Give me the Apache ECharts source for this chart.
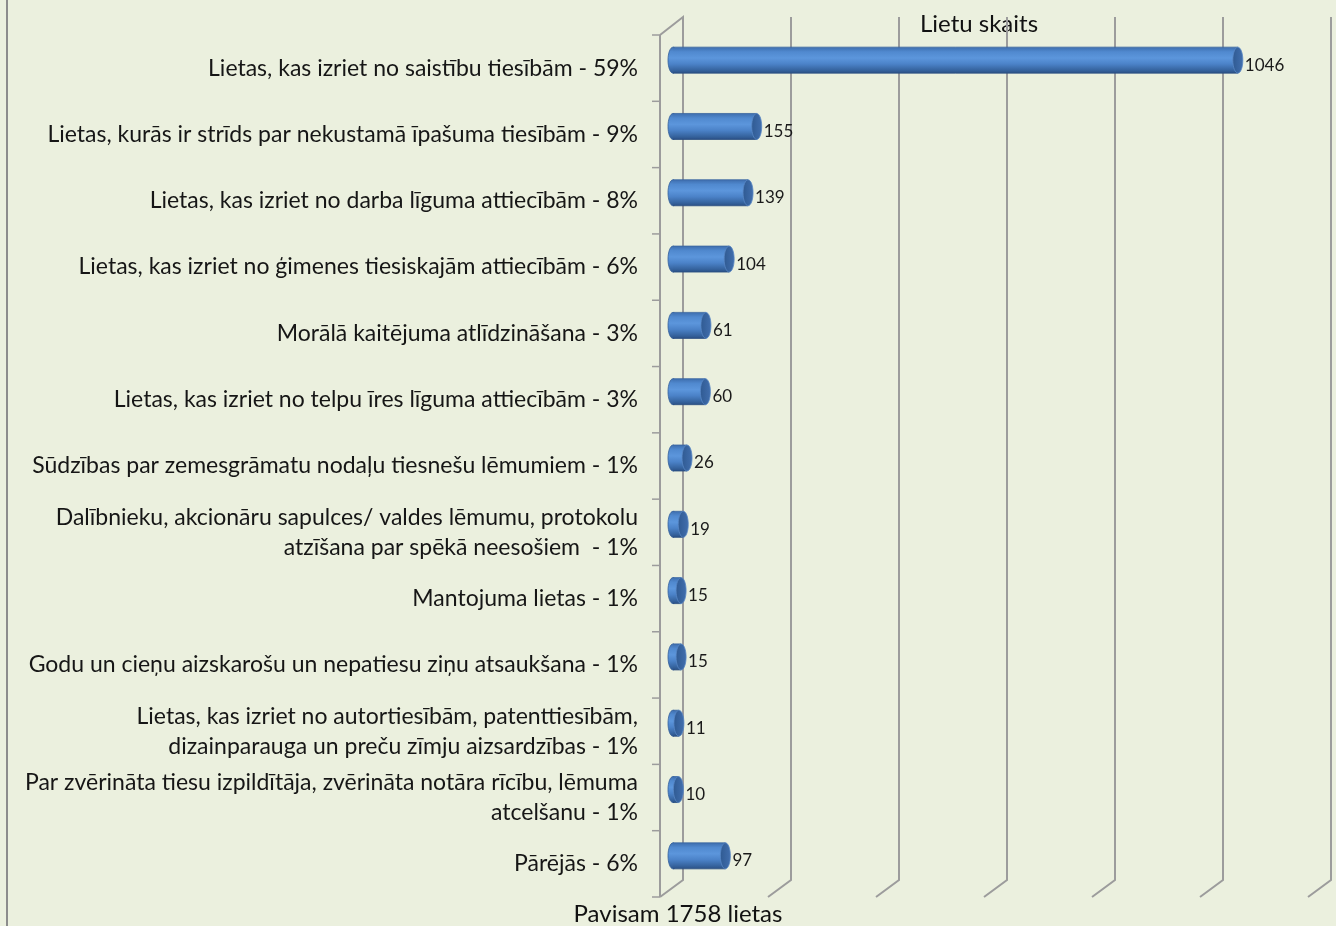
<!DOCTYPE html>
<html>
<head>
<meta charset="utf-8">
<script src="https://cdn.jsdelivr.net/npm/echarts@6/dist/echarts.min.js"></script>
<style>html,body{margin:0;padding:0;background:#EBF0DE}#c{width:1336px;height:926px}</style>
</head>
<body>
<div id="c"></div>
<script>
const categories = [
  "Lietas, kas izriet no saistību tiesībām - 59%",
  "Lietas, kurās ir strīds par nekustamā īpašuma tiesībām - 9%",
  "Lietas, kas izriet no darba līguma attiecībām - 8%",
  "Lietas, kas izriet no ģimenes tiesiskajām attiecībām - 6%",
  "Morālā kaitējuma atlīdzināšana - 3%",
  "Lietas, kas izriet no telpu īres līguma attiecībām - 3%",
  "Sūdzības par zemesgrāmatu nodaļu tiesnešu lēmumiem - 1%",
  "Dalībnieku, akcionāru sapulces/ valdes lēmumu, protokolu\natzīšana par spēkā neesošiem  - 1%",
  "Mantojuma lietas - 1%",
  "Godu un cieņu aizskarošu un nepatiesu ziņu atsaukšana - 1%",
  "Lietas, kas izriet no autortiesībām, patenttiesībām,\ndizainparauga un preču zīmju aizsardzības - 1%",
  "Par zvērināta tiesu izpildītāja, zvērināta notāra rīcību, lēmuma\natcelšanu - 1%",
  "Pārējās - 6%"
];
const values = [1046, 155, 139, 104, 61, 60, 26, 19, 15, 15, 11, 10, 97];
const axisTicks = [0, 200, 400, 600, 800, 1000, 1200];
const titleText = "Lietu skaits";
const footerText = "Pavisam 1758 lietas";

const FONT = "Lato";
const chart = echarts.init(document.getElementById('c'));

const barGrad = new echarts.graphic.LinearGradient(0, 0, 0, 1, [
  {offset: 0, color: '#3E6EAE'},
  {offset: 0.18, color: '#5089CF'},
  {offset: 0.42, color: '#5C96DC'},
  {offset: 0.65, color: '#4B82C8'},
  {offset: 0.88, color: '#36649F'},
  {offset: 1, color: '#2B5186'}
]);
const capGrad = new echarts.graphic.LinearGradient(0, 0, 1, 0, [
  {offset: 0, color: '#2F5A92'},
  {offset: 1, color: '#426FAE'}
]);

const gridData = axisTicks.map(v => [v, 0]);
const barData = values.map((v, i) => [v, i]);
const GRAY = '#9C9C9C';

chart.setOption({
  backgroundColor: '#EBF0DE',
  animation: false,
  grid: {left: 673, top: 35, width: 648, height: 862},
  xAxis: {
    type: 'value', min: 0, max: 1200, interval: 200,
    axisLine: {show: false}, axisTick: {show: false}, axisLabel: {show: false}, splitLine: {show: false}
  },
  yAxis: {
    type: 'category', data: categories, inverse: true,
    axisLine: {show: false},
    axisTick: {show: false},
    axisLabel: {margin: 35, fontSize: 23, lineHeight: 30, color: '#161616', fontFamily: FONT, align: 'right'}
  },
  graphic: [
    {type: 'line', shape: {x1: 7, y1: 0, x2: 7, y2: 926}, style: {stroke: '#8C8C8C', lineWidth: 2}},
    {type: 'text', x: 979, y: 24, style: {text: titleText, fontSize: 24, fontFamily: FONT, fill: '#111', align: 'center', verticalAlign: 'middle'}},
    {type: 'text', x: 678, y: 914, style: {text: footerText, fontSize: 24, fontFamily: FONT, fill: '#111', align: 'center', verticalAlign: 'middle'}}
  ],
  series: [
    {
      type: 'custom', z: 1, silent: true,
      data: gridData,
      renderItem: function (params, api) {
        const v = api.value(0);
        const p = api.coord([v, 0]);
        const cs = params.coordSys;
        const top = cs.y, bot = cs.y + cs.height;
        const bx = p[0] + 10, fx = p[0] - 13;
        const style = {stroke: GRAY, lineWidth: 2, fill: null};
        if (v === 0) {
          const children = [
            {type: 'polyline', shape: {points: [[fx, top], [bx, top - 18], [bx, bot - 17], [fx, bot]]}, style: style},
            {type: 'line', shape: {x1: fx, y1: top, x2: fx, y2: bot}, style: {stroke: GRAY, lineWidth: 2}}
          ];
          const n = categories.length;
          for (let i = 0; i <= n; i++) {
            const y = top + i * cs.height / n;
            children.push({type: 'line', shape: {x1: fx - 8, y1: y, x2: fx, y2: y}, style: {stroke: GRAY, lineWidth: 1.5}});
          }
          return {type: 'group', children: children};
        }
        return {type: 'polyline', shape: {points: [[bx, top - 18], [bx, bot - 17], [fx, bot]]}, style: style};
      }
    },
    {
      type: 'custom', z: 3,
      data: barData,
      renderItem: function (params, api) {
        const v = api.value(0), idx = api.value(1);
        const p0 = api.coord([0, idx]);
        const p1 = api.coord([v, idx]);
        const h = 26, rx = 5;
        const cy = p0[1] - 8;
        return {
          type: 'group',
          children: [
            {type: 'ellipse', shape: {cx: p0[0], cy: cy, rx: rx, ry: h / 2}, style: {fill: barGrad, stroke: '#35609A', lineWidth: 0.8}},
            {type: 'rect', shape: {x: p0[0], y: cy - h / 2, width: p1[0] - p0[0], height: h}, style: {fill: barGrad}},
            {type: 'line', shape: {x1: p0[0], y1: cy - h / 2, x2: p1[0], y2: cy - h / 2}, style: {stroke: '#3A669F', lineWidth: 0.8}},
            {type: 'line', shape: {x1: p0[0], y1: cy + h / 2, x2: p1[0], y2: cy + h / 2}, style: {stroke: '#2A4E80', lineWidth: 0.8}},
            {type: 'ellipse', shape: {cx: p1[0], cy: cy, rx: rx, ry: h / 2}, style: {fill: capGrad, stroke: '#5886C4', lineWidth: 0.8}},
            {type: 'text', x: p1[0] + rx + 2, y: cy + 5, style: {text: String(v), fontSize: 17, fontFamily: FONT, fill: '#1A1A1A', align: 'left', verticalAlign: 'middle'}}
          ]
        };
      }
    }
  ]
});
</script>
</body>
</html>
